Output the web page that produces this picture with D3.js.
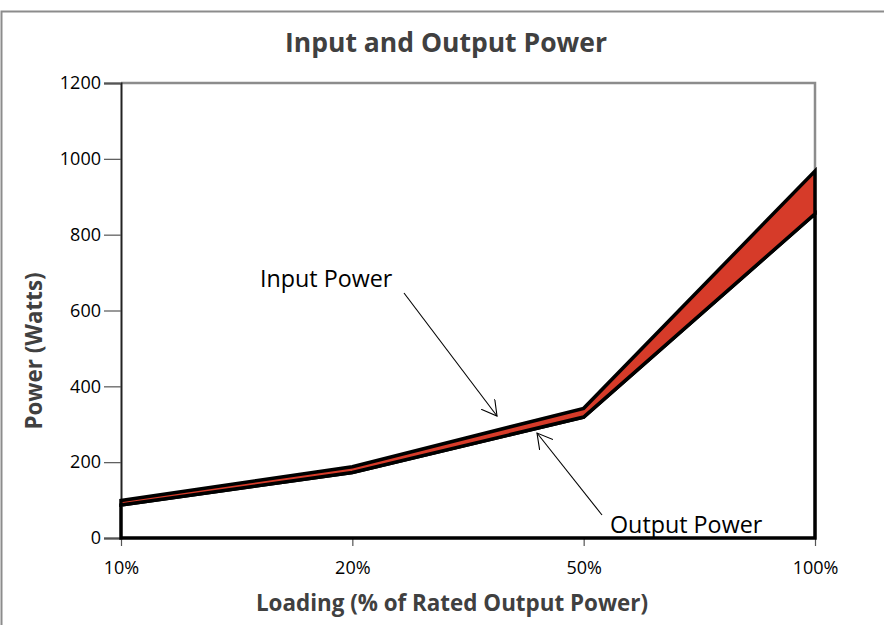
<!DOCTYPE html>
<html><head><meta charset="utf-8">
<script src="https://cdn.jsdelivr.net/npm/d3@7"></script>
<style>body{margin:0;background:#fff}svg{display:block}text{font-family:"Open Sans",Lato,sans-serif}</style>
</head><body><svg id="c" width="884" height="625"></svg>
<script>
const categories = ["10%", "20%", "50%", "100%"];
const inputPower = [99, 188, 342, 968];
const outputPower = [87, 173, 319, 855];
const yTicks = [0, 200, 400, 600, 800, 1000, 1200];

const svg = d3.select("#c");
const W = 884, H = 625;
const m = {l: 121, r: 815, t: 83, b: 538};
const FONT = '"Open Sans", sans-serif';

svg.append("rect").attr("x", 1.5).attr("y", 11.5).attr("width", W + 5).attr("height", H)
  .attr("fill", "#fff").attr("stroke", "#8c8c8c").attr("stroke-width", 2);

const x = d3.scalePoint().domain(categories).range([m.l, m.r]).padding(0);
const y = d3.scaleLinear().domain([0, 1200]).range([m.b, m.t]);

// plot border
svg.append("path").attr("d", `M${m.l},${m.t}H${m.r}V${m.b}`).attr("fill", "none")
  .attr("stroke", "#8c8c8c").attr("stroke-width", 2.5);

const data = categories.map((c, i) => ({c, inp: inputPower[i], out: outputPower[i]}));

// y axis
const ya = svg.append("g").attr("transform", `translate(${m.l},0)`)
  .call(d3.axisLeft(y).tickValues(yTicks).tickFormat(d3.format("d")).tickSize(17).tickPadding(3));
ya.select(".domain").attr("stroke", "#222").attr("stroke-width", 2);
ya.selectAll(".tick line").attr("stroke", "#555").attr("stroke-width", 1.2);
ya.selectAll("text").attr("font-size", 18).attr("fill", "#000").style("font-family", FONT);

// x axis
const xa = svg.append("g").attr("transform", `translate(0,${m.b})`)
  .call(d3.axisBottom(x).tickSize(8).tickPadding(15));
xa.select(".domain").remove();
xa.selectAll(".tick line").attr("stroke", "#555").attr("stroke-width", 1.2);
xa.selectAll("text").attr("font-size", 18).attr("fill", "#000").style("font-family", FONT);

// stacked areas
const outArea = d3.area().x(d => x(d.c)).y0(y(0)).y1(d => y(d.out));
const lossArea = d3.area().x(d => x(d.c)).y0(d => y(d.out)).y1(d => y(d.inp));
svg.append("path").datum(data).attr("d", outArea).attr("fill", "#fff")
  .attr("stroke", "#000").attr("stroke-width", 3.5).attr("stroke-linejoin", "miter");
svg.append("path").datum(data).attr("d", lossArea).attr("fill", "#d63b29")
  .attr("stroke", "#000").attr("stroke-width", 3.5).attr("stroke-linejoin", "miter");

// titles
svg.append("text").attr("x", 446).attr("y", 52).attr("text-anchor", "middle")
  .attr("font-size", 26.5).attr("font-weight", "bold").attr("fill", "#404040").text("Input and Output Power");
svg.append("text").attr("x", 452).attr("y", 611).attr("text-anchor", "middle")
  .attr("font-size", 22.4).attr("font-weight", "bold").attr("fill", "#404040").text("Loading (% of Rated Output Power)");
svg.append("text").attr("transform", "translate(42,351) rotate(-90)").attr("text-anchor", "middle")
  .attr("font-size", 22.4).attr("font-weight", "bold").attr("fill", "#404040").text("Power (Watts)");

// annotations
const defs = svg.append("defs");
defs.append("marker").attr("id", "ah").attr("viewBox", "0 0 16 18").attr("refX", 15).attr("refY", 8.5)
  .attr("markerWidth", 16).attr("markerHeight", 18).attr("markerUnits", "userSpaceOnUse").attr("orient", "auto")
  .append("path").attr("d", "M0,0L15,8.5L0,17").attr("fill", "none").attr("stroke", "#000").attr("stroke-width", 1.1);
svg.append("text").attr("x", 260).attr("y", 287).attr("font-size", 23.3).attr("fill", "#000").text("Input Power");
svg.append("line").attr("x1", 404).attr("y1", 293).attr("x2", 497).attr("y2", 416)
  .attr("stroke", "#000").attr("stroke-width", 1.1).attr("marker-end", "url(#ah)");
svg.append("text").attr("x", 610).attr("y", 533).attr("font-size", 23.3).attr("fill", "#000").text("Output Power");
svg.append("line").attr("x1", 602).attr("y1", 515).attr("x2", 537).attr("y2", 433)
  .attr("stroke", "#000").attr("stroke-width", 1.1).attr("marker-end", "url(#ah)");
</script></body></html>
